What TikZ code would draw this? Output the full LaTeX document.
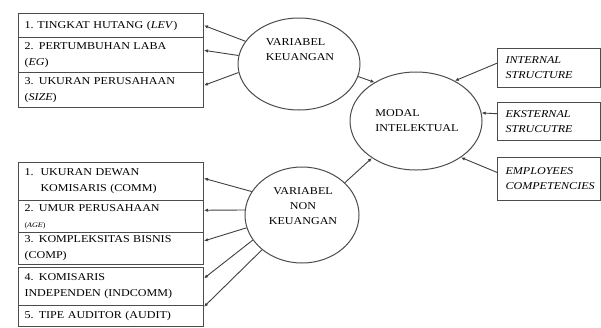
\documentclass[tikz,border=0pt]{standalone}
\usepackage{fontspec}
\setmainfont{Liberation Serif}[FakeStretch=1.15]
\usetikzlibrary{shapes.geometric,arrows.meta,calc}
\tikzset{
  kotak/.style={draw=black!70, line width=1pt, rectangle, anchor=north west, text width=173pt, inner xsep=6pt, inner ysep=0pt, align=left, font=\fontsize{10.5}{16}\selectfont},
  kotakkanan/.style={kotak, text width=87pt, inner xsep=8pt, font=\fontsize{10.5}{15}\selectfont\itshape},
  lingkar/.style={draw=black!70, line width=1pt, ellipse, inner sep=0pt},
  teks/.style={inner sep=0pt, font=\fontsize{10.5}{15}\selectfont},
  panah/.style={draw=black!75, line width=0.9pt, -{Latex[length=4pt,width=3.5pt]}}
}

\begin{document}
\begin{tikzpicture}[x=1pt,y=-1pt]
\useasboundingbox (0,0) rectangle (601,327);
% variabel keuangan
\node[kotak, minimum height=24pt] (lev) at (18,13) {\makebox[13pt][l]{1.}TINGKAT HUTANG (\textit{LEV})};
\node[kotak, minimum height=35pt] (eg) at (18,37) {2. PERTUMBUHAN LABA\\(\textit{EG})};
\node[kotak, minimum height=35pt] (size) at (18,72) {3. UKURAN PERUSAHAAN\\(\textit{SIZE})};
% variabel non keuangan
\node[kotak, minimum height=38pt] (comm) at (18,162) {\makebox[16pt][l]{1.}UKURAN DEWAN\\\hspace*{16pt}KOMISARIS (COMM)};
\node[kotak, minimum height=32pt] (age) at (18,200) {2. UMUR PERUSAHAAN\\{\fontsize{7}{8}\selectfont(\textit{AGE})}};
\node[kotak, minimum height=32pt] (comp) at (18,232) {3. KOMPLEKSITAS BISNIS\\(COMP)};
\node[kotak, minimum height=38pt] (indcomm) at (18,267) {4. KOMISARIS\\INDEPENDEN (INDCOMM)};
\node[kotak, minimum height=21pt] (audit) at (18,305) {5. TIPE AUDITOR (AUDIT)};
% modal intelektual
\node[kotakkanan, minimum height=39pt] (ic) at (497,48) {INTERNAL\\STRUCTURE};
\node[kotakkanan, minimum height=38pt] (ec) at (497,102) {EKSTERNAL\\STRUCUTRE};
\node[kotakkanan, minimum height=43pt] (hc) at (497,157) {EMPLOYEES\\COMPETENCIES};

\node[lingkar, minimum width=122pt, minimum height=92pt] (vk) at (299,64) {};
\node[teks, align=left] (vktxt) at (300,50) {VARIABEL\\KEUANGAN};
\node[lingkar, minimum width=114pt, minimum height=96pt] (nk) at (302,215) {};
\node[teks, align=center] (nktxt) at (303,206) {VARIABEL\\NON\\KEUANGAN};
\node[lingkar, minimum width=132pt, minimum height=98pt] (mi) at (416,121) {};
\node[teks, align=left] (mitxt) at (417,121) {MODAL\\INTELEKTUAL};

\draw[panah] (vk.157) -- (lev.east);
\draw[panah] (vk.172) -- ($(eg.north east)!.37!(eg.south east)$);
\draw[panah] (vk.188) -- ($(size.north east)!.37!(size.south east)$);
\draw[panah] (nk.155) -- ($(comm.north east)!.42!(comm.south east)$);
\draw[panah] (nk.175) -- ($(age.north east)!.31!(age.south east)$);
\draw[panah] (nk.193) -- ($(comp.north east)!.27!(comp.south east)$);
\draw[panah] (nk.207) -- ($(indcomm.north east)!.29!(indcomm.south east)$);
\draw[panah] (nk.221) -- ($(audit.north east)!.08!(audit.south east)$);
\draw[panah] (vk.-12) -- (mi.137);
\draw[panah] (nk.37) -- (mi.220);
\draw[panah] ($(ic.north west)!.38!(ic.south west)$) -- (mi.46);
\draw[panah] ($(ec.north west)!.3!(ec.south west)$) -- (mi.7);
\draw[panah] ($(hc.north west)!.35!(hc.south west)$) -- (mi.-39);
\end{tikzpicture}
\end{document}
